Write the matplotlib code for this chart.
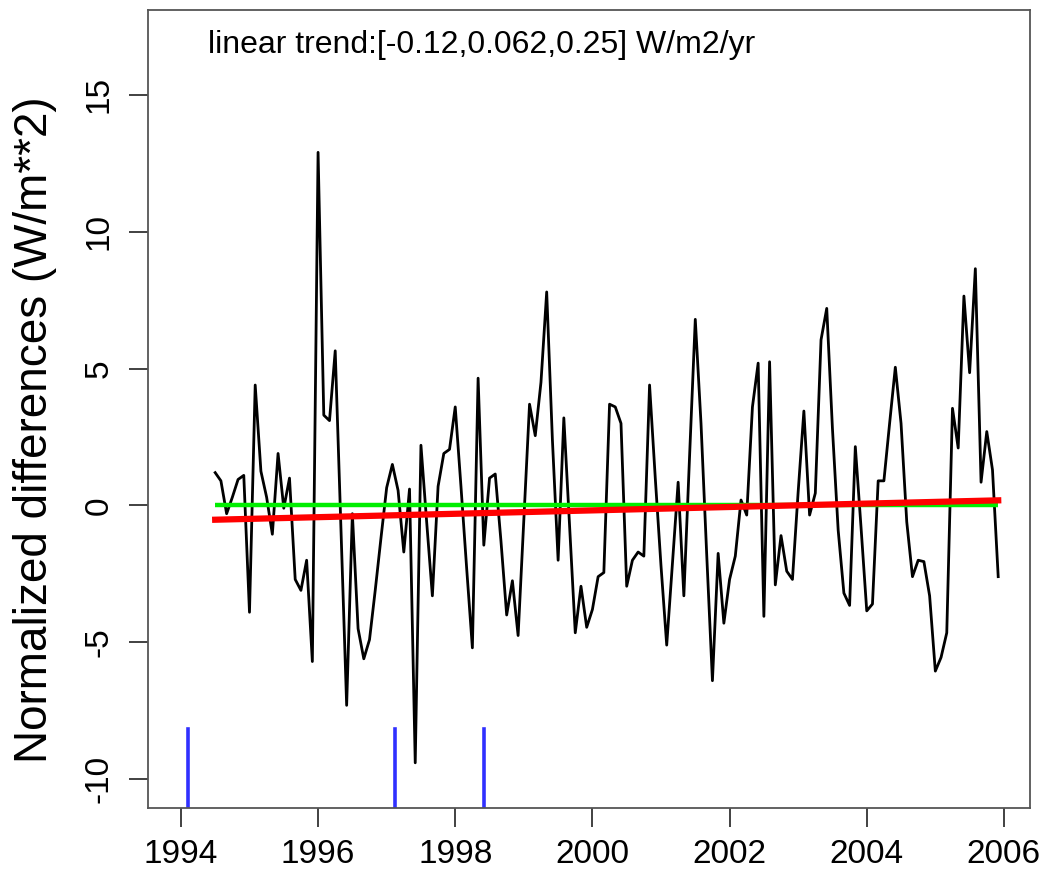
import numpy as np
import matplotlib
matplotlib.use("Agg")
import matplotlib.pyplot as plt

plt.rcParams['font.family'] = ['Liberation Sans', 'DejaVu Sans']

# Monthly normalized differences (W/m**2), Jul 1994 .. Dec 2005
start_year = 1994.5
values = [
    1.2, 0.9, -0.3, 0.3, 0.95, 1.1, -3.9, 4.4, 1.25, 0.3,
    -1.05, 1.9, -0.1, 1.0, -2.7, -3.1, -2.0, -5.7, 12.9, 3.3,
    3.1, 5.65, -0.8, -7.3, -0.3, -4.5, -5.6, -4.9, -3.1, -1.2,
    0.65, 1.5, 0.55, -1.7, 0.6, -9.4, 2.2, -0.6, -3.3, 0.7,
    1.9, 2.05, 3.6, 0.7, -2.3, -5.2, 4.65, -1.45, 1.0, 1.15,
    -1.3, -4.0, -2.75, -4.75, -0.5, 3.7, 2.55, 4.5, 7.8, 2.4,
    -2.0, 3.2, -0.7, -4.65, -2.95, -4.45, -3.8, -2.6, -2.45, 3.7,
    3.6, 3.0, -2.95, -2.0, -1.7, -1.85, 4.4, 1.0, -2.2, -5.1,
    -2.1, 0.85, -3.3, 1.8, 6.8, 3.0, -1.8, -6.4, -1.75, -4.3,
    -2.7, -1.85, 0.2, -0.35, 3.6, 5.2, -4.05, 5.25, -2.9, -1.1,
    -2.4, -2.7, 0.5, 3.45, -0.35, 0.45, 6.05, 7.2, 2.8, -0.9,
    -3.2, -3.65, 2.15, -0.8, -3.85, -3.6, 0.9, 0.9, 3.0, 5.05,
    3.0, -0.6, -2.6, -2.0, -2.05, -3.3, -6.05, -5.55, -4.65, 3.55,
    2.1, 7.65, 4.85, 8.65, 0.85, 2.7, 1.3, -2.6,
]
trend_slope = 0.062      # W/m2/yr
trend_start_value = -0.52
event_years = [1994.1, 1997.12, 1998.42]
event_top = -8.15
annotation = "linear trend:[-0.12,0.062,0.25] W/m2/yr"
ylabel = "Normalized differences (W/m**2)"
xticks = [1994, 1996, 1998, 2000, 2002, 2004, 2006]
yticks = [-10, -5, 0, 5, 10, 15]

x = start_year + np.arange(len(values)) / 12.0
y = np.array(values)

fig = plt.figure(figsize=(10.51, 8.77), dpi=100)
ax = fig.add_axes([0.1408, 0.0787, 0.8392, 0.9099])

ax.plot(x, y, color='black', lw=2.0, zorder=3)
ax.plot([x[0], x[-1]], [0, 0], color='#00ee00', lw=3.2, zorder=4, solid_capstyle='butt')
trend = trend_start_value + trend_slope * (x - x[0])
ax.plot([x[0], x[-1]], [trend[0], trend[-1]], color='#ff0000', lw=4.5, zorder=5)

ymin, ymax = -11.05, 18.1
for ev in event_years:
    ax.plot([ev, ev], [ymin, event_top], color='#3030ff', lw=2.6, zorder=2)

ax.set_xlim(1993.52, 2006.38)
ax.set_ylim(ymin, ymax)
ax.set_xticks(xticks)
ax.set_yticks(yticks)
ax.set_xticklabels([str(t) for t in xticks], fontsize=24)
ax.set_yticklabels([str(t) for t in yticks], fontsize=24, rotation=90, va='center')
ax.tick_params(axis='both', direction='out', length=14, width=1.3, color='#333333')
ax.tick_params(axis='x', pad=8)
ax.tick_params(axis='y', pad=10)
for s in ax.spines.values():
    s.set_color('#555555')
    s.set_linewidth(1.3)

fig.text(35 / 1051, 1 - 430 / 877, ylabel, fontsize=33, rotation=90,
         ha='center', va='center')
ax.text(0.068, 0.956, annotation, transform=ax.transAxes, fontsize=23,
        ha='left', va='center')

fig.savefig('out.png', dpi=100)
